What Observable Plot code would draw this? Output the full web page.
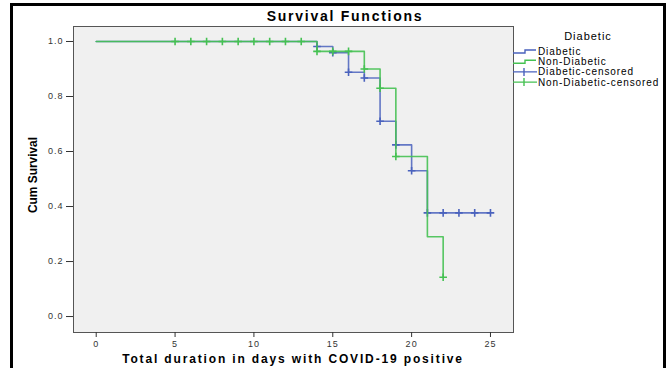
<!DOCTYPE html>
<html><head><meta charset="utf-8">
<script src="https://cdn.jsdelivr.net/npm/d3@7"></script>
<script src="https://cdn.jsdelivr.net/npm/@observablehq/plot@0.6"></script>
<style>
body{margin:0;background:#fff;}
#wrap{position:relative;width:668px;height:368px;overflow:hidden;font-family:"Liberation Sans",Arial,sans-serif;background:#fff;}
#border{position:absolute;left:10px;top:3px;width:656px;height:420px;border:3px solid #000;box-sizing:border-box;}
#chart{position:absolute;left:0;top:0;}
.lbl{position:absolute;white-space:nowrap;color:#000;}
#title{left:345px;top:16px;transform:translate(-50%,-50%);font-weight:bold;font-size:14px;letter-spacing:1.75px;}
#xlab{left:293px;top:359px;transform:translate(-50%,-50%);font-weight:bold;font-size:12px;letter-spacing:1.85px;}
#ylab{left:32px;top:175px;transform:translate(-50%,-50%) rotate(-90deg) scaleX(0.88);font-weight:bold;font-size:13.5px;font-family:"Liberation Sans Narrow","Arial Narrow","Liberation Sans",Arial,sans-serif;}
#legend{position:absolute;left:0;top:0;pointer-events:none;}
</style>
</head><body>
<div id="wrap">
  <div id="border"></div>
  <div id="chart"></div>
  <div class="lbl" id="title">Survival Functions</div>
  <div class="lbl" id="xlab">Total duration in days with COVID-19 positive</div>
  <div class="lbl" id="ylab">Cum Survival</div>
</div>
<script>
// ---- data ----
const diabeticTime = [0, 14, 15, 16, 17, 18, 19, 20, 21, 25];
const diabeticSurv = [1.0, 0.982, 0.959, 0.888, 0.867, 0.71, 0.624, 0.53, 0.377, 0.377];
const nonDiabeticTime = [0, 14, 17, 18, 19, 21, 22];
const nonDiabeticSurv = [1.0, 0.964, 0.90, 0.83, 0.582, 0.29, 0.143];
const diabeticCensTime = [14, 15, 16, 17, 18, 19, 20, 21, 22, 23, 24, 25];
const diabeticCensSurv = [0.982, 0.959, 0.888, 0.867, 0.71, 0.624, 0.53, 0.377, 0.377, 0.377, 0.377, 0.377];
const nonDiabeticCensTime = [5, 6, 7, 8, 9, 10, 11, 12, 13, 14, 15, 16, 17, 18, 19, 22];
const nonDiabeticCensSurv = [1, 1, 1, 1, 1, 1, 1, 1, 1, 0.964, 0.964, 0.964, 0.90, 0.83, 0.582, 0.143];
const xTicks = [0, 5, 10, 15, 20, 25];
const yTicks = [0.0, 0.2, 0.4, 0.6, 0.8, 1.0];
const legendTitle = "Diabetic";
const legendLabels = ["Diabetic", "Non-Diabetic", "Diabetic-censored", "Non-Diabetic-censored"];

const BLUE = "#4a62bd";
const GREEN = "#45c152";

const zip = (xs, ys) => xs.map((x, i) => ({x, y: ys[i]}));
const diab = zip(diabeticTime, diabeticSurv);
const nondiab = zip(nonDiabeticTime, nonDiabeticSurv);
const diabC = zip(diabeticCensTime, diabeticCensSurv);
const nondiabC = zip(nonDiabeticCensTime, nonDiabeticCensSurv);

const censorMark = {
  draw(ctx) {
    const h = 3.8;
    ctx.moveTo(-h, 0); ctx.lineTo(h, 0);
    ctx.moveTo(0, -h); ctx.lineTo(0, h);
  }
};

const plot = Plot.plot({
  width: 668,
  height: 368,
  marginLeft: 73,
  marginRight: 155,
  marginTop: 26,
  marginBottom: 36,
  style: {fontFamily: "'Liberation Sans', Arial, sans-serif", fontSize: "9px", letterSpacing: "1px", background: "transparent", color: "#333"},
  x: {domain: [-1.44, 26.46]},
  y: {domain: [-0.058, 1.0545]},
  marks: [
    Plot.frame({fill: "#f0f0f0", stroke: "#555", strokeWidth: 1}),
    Plot.axisY(yTicks, {tickFormat: d3.format(".1f"), tickSize: 7, tickPadding: 3, label: null, stroke: "#333"}),
    Plot.axisX(xTicks, {tickSize: 5, tickPadding: 3, label: null, stroke: "#333"}),
    Plot.line(diab, {x: "x", y: "y", curve: "step-after", stroke: BLUE, strokeWidth: 1.6, strokeOpacity: 0.85}),
    Plot.dot(diabC, {x: "x", y: "y", symbol: censorMark, fill: "none", stroke: BLUE, strokeWidth: 1.6, r: 4}),
    Plot.line(nondiab, {x: "x", y: "y", curve: "step-after", stroke: GREEN, strokeWidth: 1.6, strokeOpacity: 0.9}),
    Plot.dot(nondiabC, {x: "x", y: "y", symbol: censorMark, fill: "none", stroke: GREEN, strokeWidth: 1.6, r: 4})
  ]
});
document.getElementById("chart").appendChild(plot);

// ---- legend ----
const leg = d3.select("#wrap").append("svg").attr("id", "legend").attr("width", 668).attr("height", 368);
leg.append("text").attr("x", 588).attr("y", 40).attr("text-anchor", "middle")
  .style("font-size", "11px").style("letter-spacing", "1px").attr("fill", "#000").text(legendTitle);
const colors = [BLUE, GREEN, BLUE, GREEN];
legendLabels.forEach((lab, i) => {
  const y = 51.5 + i * 10.2;
  const g = leg.append("g");
  if (i < 2) {
    g.append("path").attr("d", `M513,${y + 1.5}H525V${y - 1.5}H536`).attr("fill", "none")
      .attr("stroke", colors[i]).attr("stroke-width", 1.4);
  } else {
    g.append("path").attr("d", `M513,${y}H537M524,${y - 4}V${y + 4}`).attr("fill", "none")
      .attr("stroke", colors[i]).attr("stroke-width", 1.4);
  }
  g.append("text").attr("x", 538).attr("y", y + 3.5).style("font-size", "10px")
    .style("letter-spacing", "0.9px").attr("fill", "#000").text(lab);
});
</script>
</body></html>
